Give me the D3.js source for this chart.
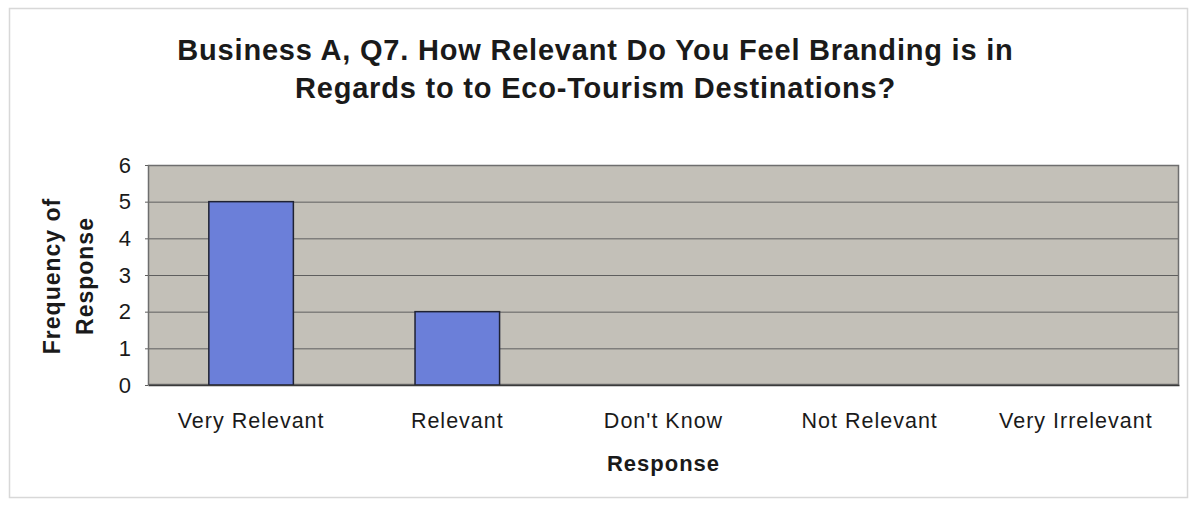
<!DOCTYPE html>
<html>
<head>
<meta charset="utf-8">
<script src="https://cdn.jsdelivr.net/npm/d3@7"></script>
<style>
  html, body { margin: 0; padding: 0; background: #fff; }
  svg { display: block; }
  text { font-family: "Liberation Sans", Arial, Helvetica, sans-serif; fill: #1a1a1a; }
</style>
</head>
<body>
<svg id="chart" width="1196" height="507"></svg>
<script>
// Survey responses for Q7
const categories = ["Very Relevant", "Relevant", "Don't Know", "Not Relevant", "Very Irrelevant"];
const frequencies = [5, 2, 0, 0, 0];
const yTicks = [0, 1, 2, 3, 4, 5, 6];
const titleLines = [
  "Business A, Q7. How Relevant Do You Feel Branding is in",
  "Regards to to Eco-Tourism Destinations?"
];
const xTitle = "Response";
const yTitleLines = ["Frequency of", "Response"];

const W = 1196, H = 507;
const plot = { left: 148, right: 1179, top: 165, bottom: 385 };

const svg = d3.select("#chart");

// outer chart frame
svg.append("rect")
  .attr("x", 9.5).attr("y", 8.5)
  .attr("width", 1178).attr("height", 489)
  .attr("fill", "#fff")
  .attr("stroke", "#d8d8d8")
  .attr("stroke-width", 1.5);

const x = d3.scaleBand()
  .domain(categories)
  .range([plot.left, plot.right])
  .paddingInner(0.59)
  .paddingOuter(0.295);

const y = d3.scaleLinear()
  .domain([0, 6])
  .range([plot.bottom, plot.top]);

// plot background
svg.append("rect")
  .attr("x", plot.left).attr("y", plot.top)
  .attr("width", plot.right - plot.left)
  .attr("height", plot.bottom - plot.top)
  .attr("fill", "#c3c0b8");

// horizontal gridlines
svg.append("g")
  .selectAll("line")
  .data(yTicks.filter(d => d > 0 && d < 6))
  .join("line")
  .attr("x1", plot.left).attr("x2", plot.right)
  .attr("y1", d => y(d) + 0.5).attr("y2", d => y(d) + 0.5)
  .attr("stroke", "#5e5e5e")
  .attr("stroke-width", 1);

// plot border
svg.append("rect")
  .attr("x", plot.left + 0.5).attr("y", plot.top + 0.5)
  .attr("width", plot.right - plot.left - 1)
  .attr("height", plot.bottom - plot.top - 1)
  .attr("fill", "none")
  .attr("stroke", "#6e6e6e")
  .attr("stroke-width", 1.5);

// bars
svg.append("g")
  .selectAll("rect")
  .data(categories.map((c, i) => ({ c, v: frequencies[i] })).filter(d => d.v > 0))
  .join("rect")
  .attr("x", d => x(d.c))
  .attr("y", d => y(d.v))
  .attr("width", x.bandwidth())
  .attr("height", d => y(0) - y(d.v))
  .attr("fill", "#6b7fd9")
  .attr("stroke", "#1f2233")
  .attr("stroke-width", 1.5);

// y axis
const yAxis = svg.append("g")
  .attr("transform", `translate(${plot.left},0)`)
  .call(d3.axisLeft(y).tickValues(yTicks).tickFormat(d3.format("d")).tickSize(3).tickPadding(14));
yAxis.select(".domain").remove();
yAxis.selectAll("line").attr("stroke", "#5e5e5e");
yAxis.selectAll("text")
  .style("font-size", "22px")
  .style("font-family", "'Liberation Sans', Arial, sans-serif")
  .attr("fill", "#1a1a1a");

// x axis
const xAxis = svg.append("g")
  .attr("transform", `translate(0,${plot.bottom})`)
  .call(d3.axisBottom(x).tickSize(0).tickPadding(28));
xAxis.select(".domain")
  .attr("stroke", "#3a3a3a")
  .attr("stroke-width", 1.5);
xAxis.selectAll("text")
  .style("font-size", "21.5px")
  .style("letter-spacing", "1px")
  .style("font-family", "'Liberation Sans', Arial, sans-serif")
  .attr("fill", "#1a1a1a");

// title
svg.append("g")
  .selectAll("text")
  .data(titleLines)
  .join("text")
  .attr("x", (plot.left + plot.right) / 2 - 68)
  .attr("y", (d, i) => 60 + i * 38)
  .attr("text-anchor", "middle")
  .style("font-size", "29px")
  .style("letter-spacing", "0.8px")
  .style("font-weight", "bold")
  .text(d => d);

// x axis title
svg.append("text")
  .attr("x", (plot.left + plot.right) / 2)
  .attr("y", 471)
  .attr("text-anchor", "middle")
  .style("font-size", "22px")
  .style("font-weight", "bold")
  .style("letter-spacing", "1px")
  .text(xTitle);

// y axis title (two rotated lines)
const yc = (plot.top + plot.bottom) / 2;
svg.append("g")
  .selectAll("text")
  .data(yTitleLines)
  .join("text")
  .attr("transform", (d, i) => `translate(${60 + i * 33},${yc + 1}) rotate(-90)`)
  .attr("text-anchor", "middle")
  .style("font-size", "23px")
  .style("font-weight", "bold")
  .style("letter-spacing", "1px")
  .text(d => d);
</script>
</body>
</html>
